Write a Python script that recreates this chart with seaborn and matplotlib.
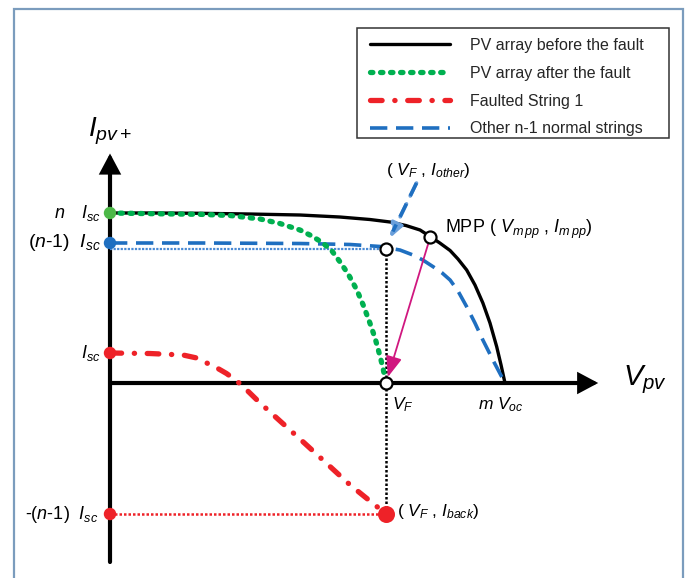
import matplotlib
matplotlib.use("Agg")
import matplotlib.pyplot as plt
import seaborn as sns
import pandas as pd
from matplotlib.patches import Rectangle

sns.set_theme(style="white")
plt.rcParams["font.family"] = ["Liberation Sans", "DejaVu Sans"]
plt.rcParams["mathtext.fontset"] = "custom"
plt.rcParams["mathtext.rm"] = "Liberation Sans"
plt.rcParams["mathtext.it"] = "Liberation Sans:italic"
plt.rcParams["mathtext.bf"] = "Liberation Sans:bold"

# Operating levels (voltage normalised to m*Voc, current in units of Isc)
V_F = 0.699
V_MOC = 1.0
V_MPP, I_MPP = 0.811, 4.877
I_N = 5.667        # n Isc
I_N1 = 4.667       # (n-1) Isc
I_SC = 1.0         # Isc
I_OTHER = 4.467
I_BACK = -4.367

# I-V characteristics
before_v = [0.0, 0.101, 0.228, 0.354, 0.481, 0.582, 0.658, 0.709, 0.749, 0.785, 0.811,
            0.835, 0.861, 0.881, 0.903, 0.924, 0.944, 0.962, 0.979, 0.990, 1.0]
before_i = [5.667, 5.667, 5.657, 5.633, 5.600, 5.533, 5.450, 5.367, 5.250, 5.100, 4.877,
            4.667, 4.417, 4.133, 3.767, 3.267, 2.667, 2.000, 1.210, 0.600, 0.0]

after_v = [0.0, 0.127, 0.228, 0.304, 0.380, 0.430, 0.481, 0.511, 0.539, 0.562, 0.582,
           0.603, 0.625, 0.641, 0.658, 0.671, 0.684, 0.691, 0.699]
after_i = [5.667, 5.640, 5.623, 5.583, 5.467, 5.317, 5.100, 4.900, 4.667, 4.400, 4.043,
           3.633, 3.100, 2.600, 2.000, 1.500, 0.877, 0.500, 0.0]

fault_v = [0.0, 0.101, 0.185, 0.220, 0.245, 0.271, 0.295, 0.316, 0.333, 0.354, 0.380,
           0.481, 0.608, 0.699]
fault_i = [1.0, 0.983, 0.933, 0.833, 0.667, 0.500, 0.317, 0.117, -0.067, -0.333, -0.667,
           -1.867, -3.400, -4.367]

other_v = [0.0, 0.228, 0.481, 0.608, 0.684, 0.734, 0.767, 0.792, 0.818, 0.841, 0.861,
           0.881, 0.903, 0.924, 0.944, 0.972, 1.0]
other_i = [4.667, 4.667, 4.650, 4.617, 4.550, 4.433, 4.267, 4.100, 3.877, 3.667, 3.433,
           3.067, 2.543, 2.000, 1.433, 0.700, 0.0]

labels = ["PV array before the fault", "PV array after the fault",
          "Faulted String 1", "Other n-1 normal strings"]

BLACK = "#000000"
GREEN = "#00b050"
RED = "#ee2228"
BLUE = "#1f6fc0"
MAGENTA = "#d0177f"

W, H = 687, 578
fig = plt.figure(figsize=(W / 100, H / 100), dpi=100)
ax = fig.add_axes([0, 0, 1, 1])
ax.set_xlim(-0.2785, 1.4608)
ax.set_ylim(-6.5, 12.767)
ax.axis("off")

# outer frame
fig.patches.append(Rectangle((14 / W, -0.02), (683 - 14) / W, 1.02 - 9 / H,
                             transform=fig.transFigure, fill=False,
                             edgecolor="#7b9cbd", lw=1.6, zorder=0))

# axes with arrow heads
arrow_kw = dict(arrowstyle="-|>,head_length=0.75,head_width=0.4", color="black",
                lw=3.0, shrinkA=0, shrinkB=0, mutation_scale=14, joinstyle="miter")
ax.annotate("", xy=(0, 7.65), xytext=(0, -5.967), arrowprops=arrow_kw, zorder=2)
ax.annotate("", xy=(1.236, 0), xytext=(0, 0), arrowprops=arrow_kw, zorder=2)

# guide lines
sns.lineplot(x=[0, V_F], y=[I_OTHER, I_OTHER], ax=ax, color="#4a8ad4", lw=1.6,
             linestyle=(0, (1, 0.6)), zorder=3)
sns.lineplot(x=[0, V_F], y=[I_BACK, I_BACK], ax=ax, color=RED, lw=1.8,
             linestyle=(0, (1, 0.8)), zorder=3)
sns.lineplot(x=[V_F, V_F], y=[I_OTHER, I_BACK], ax=ax, color="black", lw=1.8,
             linestyle=(0, (1, 0.8)), zorder=3, sort=False, estimator=None)

# curves
handles = []
sns.lineplot(x=before_v, y=before_i, ax=ax, color=BLACK, lw=2.4, sort=False,
             estimator=None, zorder=4)
handles.append(ax.lines[-1])
sns.lineplot(x=after_v, y=after_i, ax=ax, color=GREEN, lw=3.8, sort=False,
             estimator=None, zorder=6,
             linestyle=(0, (0.45, 1.45)), dash_capstyle="round")
handles.append(ax.lines[-1])
sns.lineplot(x=fault_v, y=fault_i, ax=ax, color=RED, lw=3.8, sort=False,
             estimator=None, zorder=5,
             linestyle=(0, (2.2, 2.4, 0.05, 2.4)), dash_capstyle="round")
handles.append(ax.lines[-1])
sns.lineplot(x=other_v, y=other_i, ax=ax, color=BLUE, lw=2.6, sort=False,
             estimator=None, zorder=5, linestyle=(0, (4.8, 2.4)))
handles.append(ax.lines[-1])
if ax.get_legend() is not None:
    ax.get_legend().remove()

# arrows
ax.annotate("", xy=(V_F, 0), xytext=(V_MPP, I_MPP),
            arrowprops=dict(arrowstyle="-|>,head_length=0.9,head_width=0.35",
                            color=MAGENTA, lw=1.3, shrinkA=4, shrinkB=4.5,
                            mutation_scale=14), zorder=7)
ax.annotate("", xy=(0.709, 4.833), xytext=(0.776, 6.667),
            arrowprops=dict(arrowstyle="-|>,head_length=0.7,head_width=0.3",
                            fc="#6a9fda", ec="#6a9fda", lw=2.6, linestyle=(0, (4.0, 2.4)),
                            shrinkA=0, shrinkB=0, mutation_scale=12), zorder=7)
# dashed shaft in the series colour on top of the light head
sns.lineplot(x=[0.776, 0.716], y=[6.667, 5.05], ax=ax, color=BLUE, lw=2.6,
             linestyle=(0, (4.0, 2.4)), sort=False, estimator=None, zorder=8)

# markers
pts = pd.DataFrame({
    "v": [0, 0, 0, 0],
    "i": [I_N, I_N1, I_SC, I_BACK],
    "k": ["a", "b", "c", "d"],
})
sns.scatterplot(data=pts, x="v", y="i", ax=ax, hue="k",
                palette=["#4cb848", BLUE, RED, RED], s=80, linewidth=0,
                legend=False, zorder=9)
sns.scatterplot(x=[V_F], y=[I_BACK], ax=ax, color=RED, s=150, linewidth=0, zorder=9)
sns.scatterplot(x=[V_MPP, V_F, V_F], y=[I_MPP, I_OTHER, 0], ax=ax, color="white",
                edgecolor="black", s=75, linewidth=1.6, zorder=10)

# text annotations
tk = dict(color="black", fontsize=13)
ax.text(-0.023, I_N, r"$n\quad\, I_{sc}$", ha="right", va="center", **tk)
ax.text(-0.023, I_N1, r"$\mathit{(n}$-$\mathit{1)}\ \ I_{sc}$", ha="right", va="center",
        color="black", fontsize=14)
ax.text(-0.023, I_SC, r"$I_{sc}$", ha="right", va="center", **tk)
ax.text(-0.03, I_BACK, r"-$\mathit{(n}$-$\mathit{1)}\ \ I_{sc}$", ha="right", va="center",
        color="black", fontsize=13)

ax.text(0.0, 8.4, r"$I_{pv+}$", ha="center", va="center", fontsize=20, color="black")
ax.text(1.354, 0.1, r"$V_{pv}$", ha="center", va="center", fontsize=21, color="black")
ax.text(0.714, -0.72, r"$V_F$", ha="left", va="center", fontsize=12.5, color="black")
ax.text(0.99, -0.72, r"$m\ V_{oc}$", ha="center", va="center", fontsize=12.5, color="black")
ax.text(0.848, 5.13, r"MPP ( $V_{m\,pp}$ , $I_{m\,pp}$)", ha="left", va="center",
        fontsize=13, color="black")
ax.text(0.805, 7.1, r"( $V_F$ , $I_{other}$)", ha="center", va="center",
        fontsize=12.5, color="black")
ax.text(0.727, -4.27, r"( $V_F$ , $I_{back}$)", ha="left", va="center",
        fontsize=12.5, color="black")

# legend
fig.patches.append(Rectangle((357 / W, 1 - 138 / H), 312 / W, 110 / H,
                             transform=fig.transFigure, fill=False,
                             edgecolor="#333333", lw=1.1, zorder=1))
fig.legend(handles=handles, labels=labels, loc="upper left",
           bbox_to_anchor=(370 / W, 1 - 38 / H), frameon=False, fontsize=11.5,
           handlelength=5.0, handletextpad=1.25, labelspacing=0.8, borderpad=0,
           borderaxespad=0)

fig.savefig("out.png", dpi=100)
